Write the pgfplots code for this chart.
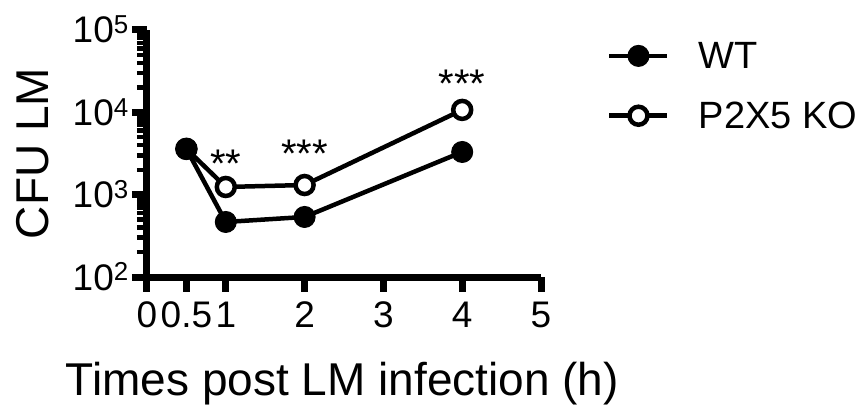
\documentclass[border=0pt]{standalone}
\usepackage{fontspec}
\setmainfont{Liberation Sans}
\usepackage{pgfplots}
\pgfplotsset{compat=1.18}

\begin{document}
\begin{tikzpicture}
\path[use as bounding box] (-147pt,-130pt) rectangle (714pt,277pt);
\begin{axis}[
    at={(0,0)}, anchor=south west,
    scale only axis,
    width=394pt, height=247pt,
    xmin=0, xmax=5,
    ymode=log, ymin=1e2, ymax=1e5,
    axis x line*=bottom, axis y line*=left,
    axis line style={line width=7pt, black, -},
    xtick={0,0.5,1,2,3,4,5},
    xticklabels={0,0.5,1,2,3,4,5},
    ytick={100,1000,10000,100000},
    yticklabels={10\textsuperscript{2},10\textsuperscript{3},10\textsuperscript{4},10\textsuperscript{5}},
    tick align=outside,
    major tick length=15pt, minor tick length=10pt,
    tick style={line width=7pt, black},
    minor tick style={line width=4.5pt},
    tick label style={font=\fontsize{37}{40}\selectfont},
    yticklabel style={anchor=base east, yshift=-13pt, inner sep=0pt, xshift=-3pt},
    xticklabel style={inner sep=0pt, yshift=-10pt},
    xlabel={Times post LM infection (h)},
    ylabel={CFU LM},
    label style={font=\fontsize{46}{50}\selectfont},
    xlabel style={at={(axis description cs:0.496,-0.478)}, anchor=base},
    ylabel style={at={(axis description cs:-0.251,0.5)}, anchor=base, rotate=0},
    clip=false,
    reverse legend,
    legend style={at={(axis description cs:1.16,0.96)}, anchor=north west,
        draw=none, fill=none, font=\fontsize{38}{40}\selectfont,
        nodes={inner sep=0pt}, row sep=32pt, column sep=29pt},
    legend cell align=left,
    legend image code/.code={\draw[#1, mark repeat=2, mark phase=2]
        plot coordinates {(0pt,0pt) (29pt,0pt) (58pt,0pt)};},
]
\addplot[black, line width=4.5pt, mark=*, mark size=9pt,
    mark options={fill=white, line width=4.5pt}]
    coordinates {(0.5,3600) (1,1240) (2,1310) (4,10700)};
\addlegendentry{P2X5 KO}
\addplot[black, line width=4.5pt, mark=*, mark size=10.5pt,
    mark options={fill=black, line width=1pt}]
    coordinates {(0.5,3600) (1,466) (2,536) (4,3300)};
\addlegendentry{WT}
\node[anchor=base, font=\fontsize{40}{40}\selectfont] at (axis cs:1,1600) {**};
\node[anchor=base, font=\fontsize{40}{40}\selectfont] at (axis cs:2,2110) {***};
\node[anchor=base, font=\fontsize{40}{40}\selectfont] at (axis cs:4,14960) {***};
\end{axis}
\end{tikzpicture}
\end{document}
